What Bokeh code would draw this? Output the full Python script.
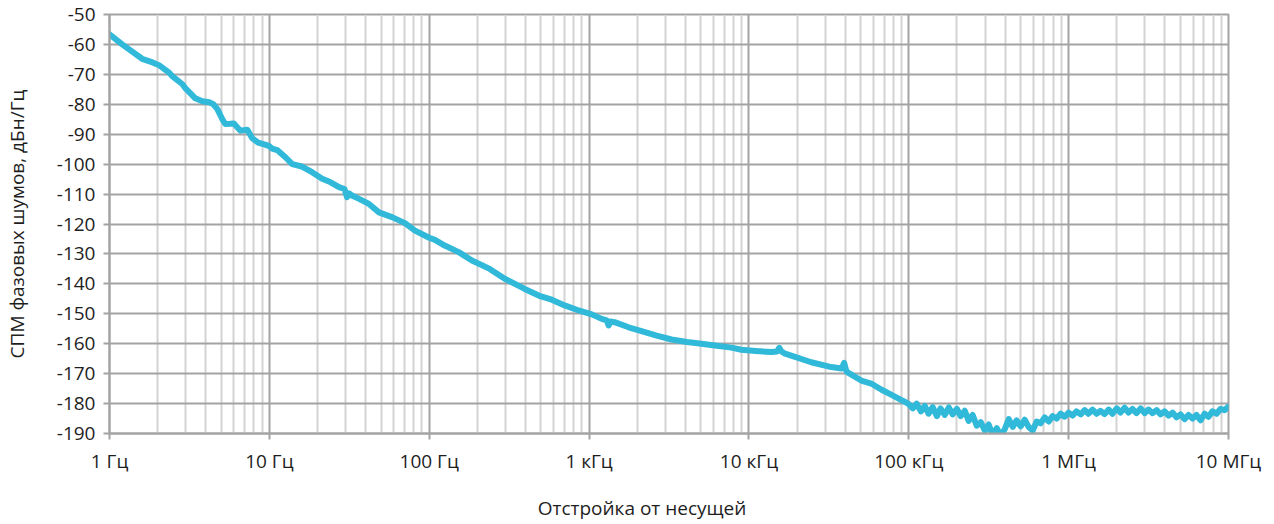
from bokeh.plotting import figure
from bokeh.models import FixedTicker, Range1d, Div
from bokeh.layouts import column
from bokeh.embed import file_html
from bokeh.resources import INLINE

# ---- data ----
freq_hz = [
    1, 1.2, 1.6, 1.86, 2.05, 2.37, 2.48, 2.86, 3.0, 3.3, 3.44, 3.81, 4.2, 4.46, 4.73,
    5.08, 5.3, 5.7, 6.0, 6.58, 7.28, 7.8, 8.5, 9.4, 10, 10.4, 11.2, 12.6, 13.9, 16,
    18.5, 21.4, 24, 27.3, 29.5, 30.6, 31.6, 32.9, 36.4, 42, 48.5, 58.5, 70.5, 81.5, 100,
    108.6, 125, 153, 185, 239, 297, 396, 484, 584, 704, 861, 1040, 1200, 1290, 1325,
    1360, 1444, 1767, 2128, 2650, 3280, 4100, 5045, 6300, 7770, 8970, 11000, 13800,
    15000, 15490, 16000, 16650, 19220, 24550, 32730, 38000, 39450, 40500, 41200, 50400,
    58200, 67200, 77500, 89500, 94400,
    100000, 106000, 112000, 119000, 126000, 133000, 141000, 150000, 158000, 168000,
    178000, 188000, 200000, 211000, 224000, 237000, 251000, 266000, 282000, 299000,
    316000, 335000, 355000, 376000, 398000, 422000, 447000, 473000, 501000, 531000,
    562000, 596000, 631000, 668000, 708000, 750000, 794000, 841000, 891000, 944000,
    1000000, 1060000, 1120000, 1190000, 1260000, 1330000, 1410000, 1500000, 1580000,
    1680000, 1780000, 1880000, 2000000, 2110000, 2240000, 2370000, 2510000, 2660000,
    2820000, 2990000, 3160000, 3350000, 3550000, 3760000, 3980000, 4220000, 4470000,
    4730000, 5010000, 5310000, 5620000, 5960000, 6310000, 6680000, 7080000, 7500000,
    7940000, 8410000, 8910000, 9440000, 10000000,
]
spm_dbc = [
    -56.6, -60.0, -64.8, -66.0, -67.0, -69.5, -70.7, -73.3, -74.8, -77.0, -78.0, -79.0,
    -79.3, -80.0, -81.6, -85.0, -86.6, -86.5, -86.4, -88.8, -88.5, -91.3, -92.8, -93.5,
    -94.0, -94.8, -95.3, -97.7, -100.0, -100.8, -102.7, -104.9, -106.0, -107.7, -108.3,
    -111.0, -109.8, -110.5, -111.6, -113.3, -116.1, -117.7, -119.7, -122.2, -124.6,
    -125.3, -127.2, -129.4, -132.2, -135.0, -138.3, -141.7, -143.9, -145.3, -147.2,
    -148.9, -150.2, -151.7, -152.2, -153.9, -152.6, -152.8, -154.5, -155.8, -157.3,
    -158.6, -159.4, -160.0, -160.7, -161.3, -162.0, -162.4, -162.8, -162.6, -161.4,
    -162.6, -163.2, -164.3, -166.2, -167.8, -168.3, -166.4, -168.8, -169.5, -172.3,
    -173.3, -175.3, -177.0, -178.8, -179.4,
    -180.2, -181.6, -180.0, -182.6, -180.8, -183.4, -181.2, -184.2, -181.6, -183.8,
    -181.3, -183.6, -181.8, -184.2, -182.4, -185.8, -183.8, -187.4, -186.2, -189.0,
    -187.0, -190.6, -188.2, -190.8, -188.6, -185.2, -187.8, -185.6, -187.6, -185.4,
    -187.8, -189.0, -186.0, -186.6, -184.6, -186.0, -184.2, -185.0, -183.4, -184.4,
    -183.0, -184.0, -182.6, -183.6, -182.2, -183.4, -182.0, -183.4, -182.4,
    -183.5, -182.0, -183.4, -181.6, -183.0, -181.4, -183.0, -181.8, -183.2,
    -181.6, -183.2, -182.0, -183.2, -182.2, -183.6, -182.6, -184.0, -183.0,
    -184.6, -183.6, -185.2, -183.8, -185.0, -183.8, -185.6, -183.4, -184.4,
    -182.6, -183.4, -181.8, -182.2, -181.0,
]

x_major_ticks = [1, 10, 100, 1000, 10000, 100000, 1000000, 10000000]
x_tick_labels = ["1 Гц", "10 Гц", "100 Гц", "1 кГц", "10 кГц", "100 кГц", "1 МГц", "10 МГц"]
y_ticks = list(range(-190, -49, 10))
y_tick_labels = [str(v) for v in y_ticks]

x_title = "Отстройка от несущей"
y_title = "СПМ фазовых шумов, дБн/Гц"

FONT = "Open Sans"
TEXT = "#1e1e1e"
MAJOR = "#a3a3a3"
MINOR = "#d3d3d3"

minor = [m * d for d in x_major_ticks[:-1] for m in range(2, 10)]

fig = figure(
    width=1274, height=490,
    x_axis_type="log",
    x_range=Range1d(1, 1e7), y_range=Range1d(-190, -50),
    output_backend="svg", toolbar_location=None,
    min_border_left=107, min_border_right=46, min_border_top=14, min_border_bottom=57,
)
fig.outline_line_color = MAJOR
fig.outline_line_width = 2

fig.line(freq_hz, spm_dbc, line_color="#30b9d8", line_width=6,
         line_join="round", line_cap="round")

# x axis
fig.xaxis.ticker = FixedTicker(ticks=x_major_ticks, minor_ticks=minor)
fig.xaxis.major_label_overrides = {t: l for t, l in zip(x_major_ticks, x_tick_labels)}
fig.xaxis.minor_tick_line_color = None
fig.xaxis.major_tick_in = 0
fig.xaxis.major_tick_out = 6
fig.xaxis.major_label_standoff = 8

# y axis
fig.yaxis.ticker = FixedTicker(ticks=y_ticks)
fig.yaxis.major_label_overrides = {t: l for t, l in zip(y_ticks, y_tick_labels)}
fig.yaxis.minor_tick_line_color = None
fig.yaxis.major_tick_in = 0
fig.yaxis.major_tick_out = 6
fig.yaxis.major_label_standoff = 8
fig.yaxis.axis_label = y_title
fig.yaxis.axis_label_standoff = 24

for ax in (fig.xaxis, fig.yaxis):
    ax.axis_line_color = MAJOR
    ax.axis_line_width = 2
    ax.major_tick_line_color = MAJOR
    ax.major_tick_line_width = 2
    ax.major_label_text_font = FONT
    ax.major_label_text_font_size = "19px"
    ax.major_label_text_color = TEXT
    ax.axis_label_text_font = FONT
    ax.axis_label_text_font_size = "19px"
    ax.axis_label_text_font_style = "normal"
    ax.axis_label_text_color = TEXT

# grid
fig.xgrid.ticker = FixedTicker(ticks=x_major_ticks, minor_ticks=minor)
fig.xgrid.grid_line_color = MAJOR
fig.xgrid.grid_line_width = 2
fig.xgrid.minor_grid_line_color = MINOR
fig.xgrid.minor_grid_line_width = 2
fig.ygrid.ticker = FixedTicker(ticks=y_ticks)
fig.ygrid.grid_line_color = MAJOR
fig.ygrid.grid_line_width = 2

# x axis title, centred under the whole chart
title_div = Div(
    text=x_title, width=1274, height=34, margin=(0, 0, 0, 0),
    styles={"font-family": FONT, "font-size": "19px", "color": TEXT,
            "line-height": "36px", "text-align": "center",
            "padding-left": "10px", "box-sizing": "border-box"},
)

p = column(fig, title_div, spacing=0)

open("out.html", "w").write(file_html(p, INLINE))
